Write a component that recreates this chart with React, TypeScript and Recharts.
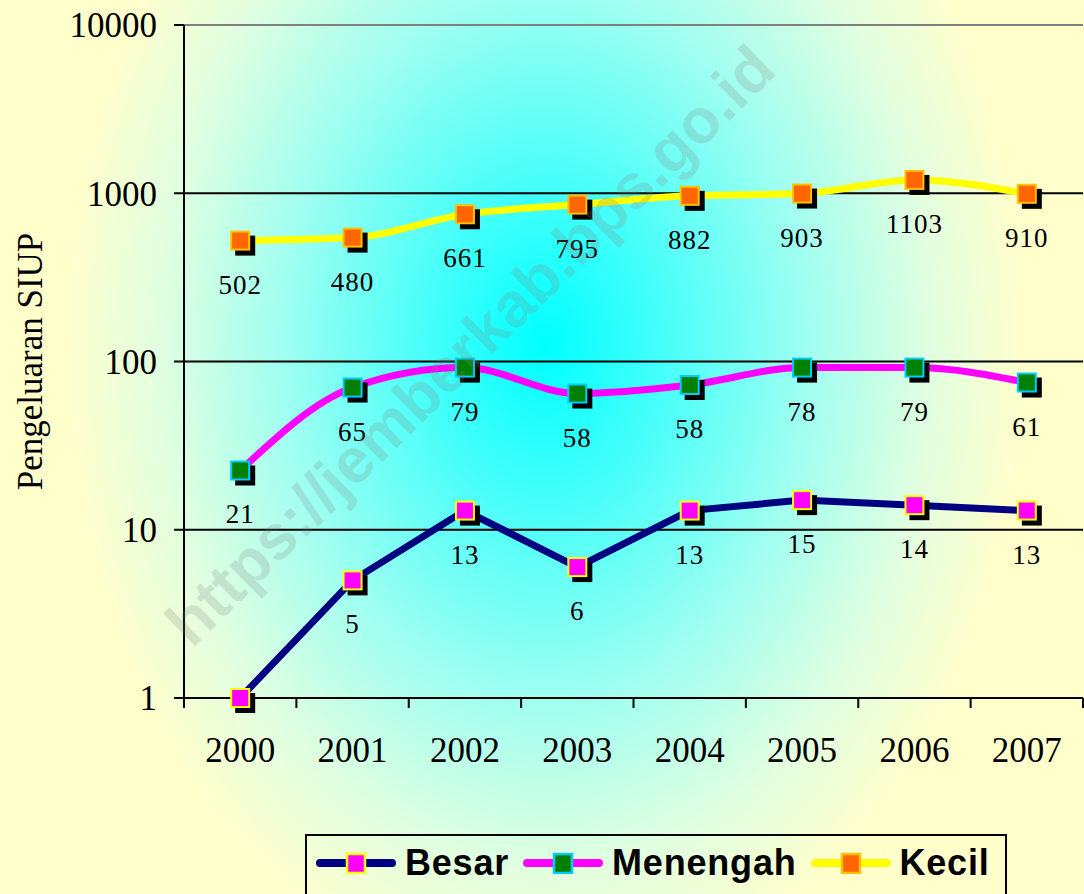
import React from 'react';
import {
  LineChart,
  Line,
  XAxis,
  YAxis,
  ReferenceLine,
  LabelList,
  Legend,
} from 'recharts';

// ---------- data ----------
const years = ['2000', '2001', '2002', '2003', '2004', '2005', '2006', '2007'];
const besar = [1, 5, 13, 6, 13, 15, 14, 13];
const menengah = [22.5, 70, 92, 64.5, 72.5, 92, 92, 75];
const kecil = [523, 545, 750, 856, 965, 996, 1200, 992];
const besarLabels = ['', '5', '13', '6', '13', '15', '14', '13'];
const menengahLabels = ['21', '65', '79', '58', '58', '78', '79', '61'];
const kecilLabels = ['502', '480', '661', '795', '882', '903', '1103', '910'];
const yTicks = [1, 10, 100, 1000, 10000];
const gridValues = [10, 100, 1000];
const seriesNames = ['Besar', 'Menengah', 'Kecil'];

const tableData = years.map((y, i) => ({
  year: y,
  Besar: besar[i],
  Menengah: menengah[i],
  Kecil: kecil[i],
}));

// ---------- layout / style ----------
const W = 1084;
const H = 894;
const MARGIN = { top: 25, right: 1, bottom: 0, left: 0 };
const YAXIS_W = 184;
const LEGEND_H = 62;
const XAXIS_H = 196 - LEGEND_H;
const STEP = (W - MARGIN.left - MARGIN.right - YAXIS_W) / years.length;
const SERIF = "'Liberation Serif', 'Times New Roman', serif";
const SANS = "'Liberation Sans', Arial, sans-serif";

const styles = {
  Besar: { line: '#000080', fill: '#FF00FF', stroke: '#FFFF00' },
  Menengah: { line: '#FF00FF', fill: '#008000', stroke: '#00CCFF' },
  Kecil: { line: '#FFFF00', fill: '#FF6600', stroke: '#FFC000' },
};

const makeDot = (fill: string, stroke: string) => (props: any) => {
  const { cx, cy, index } = props;
  if (cx == null || cy == null) return <g key={index} />;
  return (
    <g key={`d-${index}`}>
      <rect x={cx - 10 + 5} y={cy - 10 + 5} width={20} height={20} fill="#000" />
      <rect x={cx - 9} y={cy - 9} width={18} height={18} fill={fill} stroke={stroke} strokeWidth={2} />
    </g>
  );
};

const makeLabel = (labels: string[]) => (props: any) => {
  const { x, y, index } = props;
  const t = labels[index];
  if (!t) return null;
  return (
    <text
      key={`l-${index}`}
      x={x}
      y={y + 44}
      dy={9}
      textAnchor="middle"
      fontFamily={SERIF}
      fontSize={27}
      letterSpacing={1}
      fill="#000"
    >
      {t}
    </text>
  );
};

const XTick = (props: any) => {
  const { x, y, payload, index } = props;
  const half = STEP / 2;
  const top = y - 10;
  return (
    <g>
      <line x1={x - half} x2={x - half} y1={top} y2={top + 10} stroke="#000" strokeWidth={2} />
      {index === years.length - 1 && (
        <line x1={x + half} x2={x + half} y1={top} y2={top + 10} stroke="#000" strokeWidth={2} />
      )}
      <text x={x} y={y + 54} textAnchor="middle" fontFamily={SERIF} fontSize={35} fill="#000">
        {payload.value}
      </text>
    </g>
  );
};

const LegendSymbol = ({ name }: { name: string }) => {
  const s = (styles as any)[name];
  return (
    <svg width={80} height={22} style={{ display: 'block' }}>
      <line x1={4} x2={76} y1={11} y2={11} stroke={s.line} strokeWidth={8} strokeLinecap="round" />
      <rect x={31} y={2} width={18} height={19} fill={s.fill} stroke={s.stroke} strokeWidth={2.5} />
    </svg>
  );
};

const LegendContent = () => (
  <div
    style={{
      width: 702,
      height: LEGEND_H + 4,
      boxSizing: 'border-box',
      borderTop: '2px solid #000',
      borderLeft: '2px solid #000',
      borderRight: '2px solid #000',
      display: 'flex',
      alignItems: 'center',
      paddingLeft: 9,
      paddingBottom: 10,
    }}
  >
    {seriesNames.map((n) => (
      <div key={n} style={{ display: 'flex', alignItems: 'center', marginRight: 14 }}>
        <LegendSymbol name={n} />
        <span
          style={{
            marginLeft: 9,
            fontFamily: SANS,
            fontWeight: 'bold',
            fontSize: 36,
            letterSpacing: 0.8,
            color: '#000',
            lineHeight: '40px',
          }}
        >
          {n}
        </span>
      </div>
    ))}
  </div>
);

const titleLabel = (p: any) => {
  const vb = p.viewBox;
  const cx = vb.x + 30;
  const cy = vb.y + vb.height / 2;
  return (
    <text
      x={cx}
      y={cy}
      dy="0.35em"
      textAnchor="middle"
      transform={`rotate(-90 ${cx} ${cy})`}
      fontFamily={SERIF}
      fontSize={35}
      fill="#000"
    >
      Pengeluaran SIUP
    </text>
  );
};

export default function App() {
  return (
    <div
      style={{
        position: 'absolute',
        left: 0,
        top: 0,
        width: W,
        height: H,
        overflow: 'hidden',
        background:
          'radial-gradient(ellipse 480px 650px at 545px 345px, #00FFFF 0%, #10FFFF 6%, #A0FFF0 55%, #E0FFE0 80%, #FFFFCC 100%)',
      }}
    >
      <LineChart width={W} height={H} data={tableData} margin={MARGIN}>
        <ReferenceLine y={10000} stroke="#808080" strokeWidth={2} />
        {gridValues.map((v) => (
          <ReferenceLine key={v} y={v} stroke="#000" strokeWidth={2} />
        ))}
        <XAxis
          dataKey="year"
          height={XAXIS_H}
          padding={{ left: STEP / 2, right: STEP / 2 }}
          axisLine={{ stroke: '#000', strokeWidth: 2 }}
          tickLine={false}
          tickSize={10}
          tickMargin={0}
          tick={<XTick />}
          interval={0}
        />
        <YAxis
          scale="log"
          domain={[1, 10000]}
          ticks={yTicks}
          width={YAXIS_W}
          axisLine={{ stroke: '#000', strokeWidth: 2 }}
          tickLine={{ stroke: '#000', strokeWidth: 2 }}
          tickSize={10}
          tickMargin={17}
          tick={{ fill: '#000', fontSize: 35, fontFamily: SERIF }}
          label={{ content: titleLabel }}
        />
        <YAxis
          yAxisId="border"
          orientation="right"
          width={0}
          domain={[0, 1]}
          tick={false}
          tickLine={false}
          axisLine={{ stroke: '#808080', strokeWidth: 2 }}
        />
        <Legend
          content={<LegendContent />}
          wrapperStyle={{ left: 305, top: 834, width: 702, height: LEGEND_H }}
        />
        <Line
          type="linear"
          dataKey="Besar"
          stroke={styles.Besar.line}
          strokeWidth={7}
          dot={makeDot(styles.Besar.fill, styles.Besar.stroke)}
          activeDot={false}
          isAnimationActive={false}
        >
          <LabelList dataKey="Besar" content={makeLabel(besarLabels)} />
        </Line>
        <Line
          type="monotone"
          dataKey="Menengah"
          stroke={styles.Menengah.line}
          strokeWidth={7}
          dot={makeDot(styles.Menengah.fill, styles.Menengah.stroke)}
          activeDot={false}
          isAnimationActive={false}
        >
          <LabelList dataKey="Menengah" content={makeLabel(menengahLabels)} />
        </Line>
        <Line
          type="monotone"
          dataKey="Kecil"
          stroke={styles.Kecil.line}
          strokeWidth={7}
          dot={makeDot(styles.Kecil.fill, styles.Kecil.stroke)}
          activeDot={false}
          isAnimationActive={false}
        >
          <LabelList dataKey="Kecil" content={makeLabel(kecilLabels)} />
        </Line>
      </LineChart>
      <svg
        width={W}
        height={H}
        style={{ position: 'absolute', left: 0, top: 0, pointerEvents: 'none' }}
      >
        <text
          x={470}
          y={345}
          textAnchor="middle"
          dominantBaseline="central"
          transform="rotate(-44.5 470 345)"
          fontFamily={SANS}
          fontWeight="bold"
          fontSize={63}
          fill="#808080"
          fillOpacity={0.22}
        >
          https://jemberkab.bps.go.id
        </text>
      </svg>
    </div>
  );
}
